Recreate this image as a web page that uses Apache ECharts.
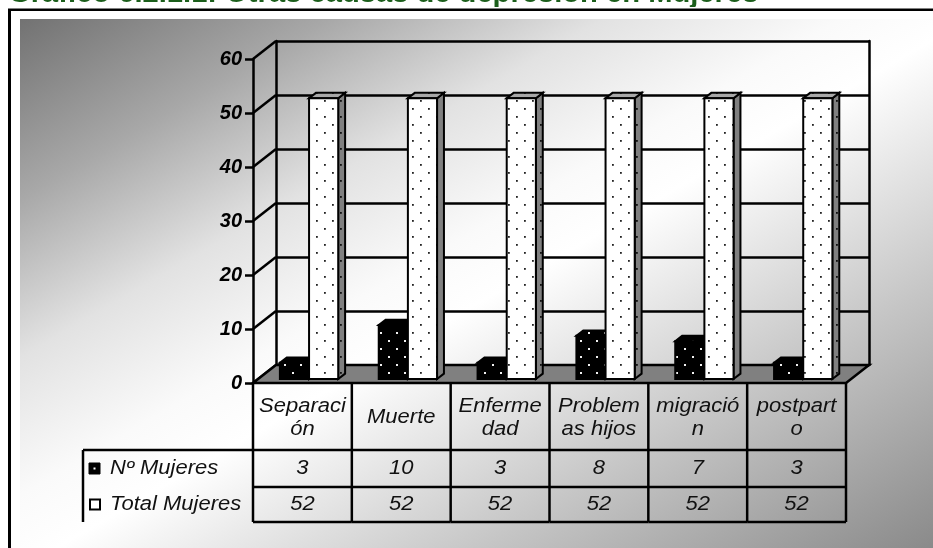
<!DOCTYPE html>
<html>
<head>
<meta charset="utf-8">
<title>Otras causas de depresión en Mujeres</title>
<script src="https://cdn.jsdelivr.net/npm/echarts@6/dist/echarts.min.js"></script>
<style>
  html, body { margin: 0; padding: 0; background: #fff; }
  #chart { width: 933px; height: 548px; }
</style>
</head>
<body>
<div id="chart"></div>
<script>
// ---- data ----
const titleText = 'Gráfico 6.2.1.1: Otras causas de depresión en Mujeres';
const categories = ['Separaci\nón', 'Muerte', 'Enferme\ndad', 'Problem\nas hijos', 'migració\nn', 'postpart\no'];
const seriesNames = ['Nº Mujeres', 'Total Mujeres'];
const nMujeres = [3, 10, 3, 8, 7, 3];
const totalMujeres = [52, 52, 52, 52, 52, 52];
const yTicks = [0, 10, 20, 30, 40, 50, 60];

// ---- 3D look: depth of the side wall / floor and bar placement inside it ----
const DEPTH_X = 23, DEPTH_Y = -18;
const BAR_NEAR = 0.22, BAR_FAR = 0.52;
const BAR_W = 0.295;          // fraction of category band
const BAR_START = -0.279;     // first bar's left edge, relative to band centre
const FONT = '"Liberation Sans", Arial, sans-serif';
const ROW_H = [67, 37, 35];   // table rows: header, Nº Mujeres, Total Mujeres
const LEGEND_COL_W = 170;

function dotPattern(bg, dot, size) {
  const c = document.createElement('canvas');
  c.width = 16; c.height = 16;
  const g = c.getContext('2d');
  g.fillStyle = bg; g.fillRect(0, 0, 16, 16);
  g.fillStyle = dot;
  g.fillRect(4, 4, size, size);
  g.fillRect(12, 12, size, size);
  return { image: c, repeat: 'repeat' };
}

const whiteFace = dotPattern('#ffffff', '#222222', 1.8);
const whiteSide = dotPattern('#808080', '#111111', 1.8);
const whiteTop = dotPattern('#a8a8a8', '#111111', 1.8);
const blackFace = dotPattern('#000000', '#f0f0f0', 2);

function barRenderer(slot, face, side, top) {
  return function (params, api) {
    const idx = api.value(0);
    const v = api.value(1);
    const base = api.coord([idx, 0]);
    const peak = api.coord([idx, v]);
    const band = api.size([1, 0])[0];
    const w = band * BAR_W;
    const nx = DEPTH_X * BAR_NEAR, ny = DEPTH_Y * BAR_NEAR;
    const dx = DEPTH_X * (BAR_FAR - BAR_NEAR), dy = DEPTH_Y * (BAR_FAR - BAR_NEAR);
    const x0 = base[0] + band * BAR_START + slot * w + nx;
    const x1 = x0 + w;
    const yb = base[1] + ny, yt = peak[1] + ny;
    const line = { stroke: '#000', lineWidth: 2, lineJoin: 'miter' };
    return {
      type: 'group',
      children: [
        { type: 'polygon', shape: { points: [[x1, yb], [x1 + dx, yb + dy], [x1 + dx, yt + dy], [x1, yt]] },
          style: Object.assign({ fill: side }, line) },
        { type: 'polygon', shape: { points: [[x0, yt], [x1, yt], [x1 + dx, yt + dy], [x0 + dx, yt + dy]] },
          style: Object.assign({ fill: top }, line) },
        { type: 'rect', shape: { x: x0, y: yt, width: w, height: yb - yt },
          style: Object.assign({ fill: face }, line) }
      ]
    };
  };
}

function cellText(str, cx, cy, lineHeight) {
  return {
    type: 'text', x: cx, y: cy, scaleX: 1.1,
    style: {
      text: str, x: 0, y: 0,
      align: 'center', verticalAlign: 'middle',
      textAlign: 'center', textVerticalAlign: 'middle',
      font: 'italic 20px ' + FONT, fill: '#111', lineHeight: lineHeight || 23
    }
  };
}

function tableRenderer(params, api) {
  const i = api.value(0);
  const c = api.coord([i, 0]);
  const band = api.size([1, 0])[0];
  const x0 = c[0] - band / 2, x1 = c[0] + band / 2;
  const y0 = c[1], y1 = y0 + ROW_H[0], y2 = y1 + ROW_H[1], y3 = y2 + ROW_H[2];
  const line = { stroke: '#000', lineWidth: 2.5, fill: null };
  const kids = [
    { type: 'line', shape: { x1: x1, y1: y0, x2: x1, y2: y3 }, style: line },
    { type: 'line', shape: { x1: x0, y1: y1, x2: x1, y2: y1 }, style: line },
    { type: 'line', shape: { x1: x0, y1: y2, x2: x1, y2: y2 }, style: line },
    { type: 'line', shape: { x1: x0, y1: y3, x2: x1, y2: y3 }, style: line },
    cellText(categories[i], c[0], (y0 + y1) / 2 + 1, 23),
    cellText(String(api.value(1)), c[0], (y1 + y2) / 2),
    cellText(String(api.value(2)), c[0], (y2 + y3) / 2)
  ];
  if (i === 0) {
    const lx = x0 - LEGEND_COL_W;
    kids.push(
      { type: 'line', shape: { x1: x0, y1: y0, x2: x0, y2: y3 }, style: line },
      { type: 'line', shape: { x1: lx, y1: y1, x2: x0, y2: y1 }, style: line },
      { type: 'line', shape: { x1: lx, y1: y1, x2: lx, y2: y3 }, style: line },
      { type: 'rect', shape: { x: lx + 6, y: (y1 + y2) / 2 - 5.5, width: 11, height: 11 },
        style: { fill: '#000', stroke: '#000', lineWidth: 1 } },
      { type: 'rect', shape: { x: lx + 10.5, y: (y1 + y2) / 2 - 1, width: 2, height: 2 },
        style: { fill: '#fff' } },
      { type: 'rect', shape: { x: lx + 7, y: (y2 + y3) / 2 - 5, width: 10, height: 10 },
        style: { fill: '#fff', stroke: '#000', lineWidth: 2 } }
    );
    [seriesNames[0], seriesNames[1]].forEach(function (name, k) {
      const cy = k === 0 ? (y1 + y2) / 2 : (y2 + y3) / 2;
      kids.push({
        type: 'text', x: lx + 27, y: cy, scaleX: 1.1,
        style: {
          text: name, x: 0, y: 0,
          align: 'left', verticalAlign: 'middle',
          textAlign: 'left', textVerticalAlign: 'middle',
          font: 'italic 20px ' + FONT, fill: '#111'
        }
      });
    });
  }
  return { type: 'group', children: kids };
}

const chart = echarts.init(document.getElementById('chart'), null, { renderer: 'canvas' });

const option = {
  animation: false,
  graphic: [
    { type: 'rect', z: -20, silent: true,
      shape: { x: 9.5, y: 9.5, width: 1000, height: 1000 },
      style: { fill: '#fff', stroke: '#000', lineWidth: 3 } },
    { type: 'rect', z: -19, silent: true,
      shape: { x: 20, y: 19, width: 940, height: 560 },
      style: {
        fill: new echarts.graphic.LinearGradient(20, 19, 479, 811, [
          { offset: 0, color: '#727272' },
          { offset: 0.17, color: '#a8a8a8' },
          { offset: 0.32, color: '#e2e2e2' },
          { offset: 0.45, color: '#fafafa' },
          { offset: 0.52, color: '#ffffff' },
          { offset: 0.75, color: '#c6c6c6' },
          { offset: 1, color: '#8a8a8a' }
        ], true)
      } },
    { type: 'text', z: 50, silent: true, x: 8, y: -5, scaleX: 1.08,
      style: { text: titleText, x: 0, y: 0, font: 'bold 27px ' + FONT, fill: '#1b5e1b',
               align: 'left', verticalAlign: 'middle' } },
    { type: 'rect', z: 51, silent: true,
      shape: { x: 0, y: 7, width: 933, height: 1.5 }, style: { fill: '#fff' } }
  ],
  grid: [
    { left: 253, right: 87, top: 59, bottom: 165 },   // front plane
    { left: 276, right: 64, top: 41, bottom: 183 }    // back wall
  ],
  xAxis: [
    { type: 'category', gridIndex: 0, data: categories,
      axisLine: { show: false }, axisTick: { show: false }, axisLabel: { show: false }, splitLine: { show: false } },
    { type: 'category', gridIndex: 1, data: categories,
      axisLine: { show: false }, axisTick: { show: false }, axisLabel: { show: false }, splitLine: { show: false } }
  ],
  yAxis: [
    { type: 'value', gridIndex: 0, min: 0, max: 60, interval: 10,
      axisLine: { show: true, lineStyle: { color: '#000', width: 2.5 } },
      axisTick: { show: true, length: 8, lineStyle: { color: '#000', width: 2.5 } },
      axisLabel: { margin: 11, color: '#000', fontFamily: FONT, fontSize: 20,
                   fontWeight: 'bold', fontStyle: 'italic' },
      splitLine: { show: false } },
    { type: 'value', gridIndex: 1, min: 0, max: 60, interval: 10,
      axisLine: { show: true, lineStyle: { color: '#000', width: 2.5 } },
      axisTick: { show: false }, axisLabel: { show: false },
      splitLine: { show: true, lineStyle: { color: '#000', width: 2.5 } } },
    { type: 'value', gridIndex: 1, min: 0, max: 60, interval: 10, position: 'right',
      axisLine: { show: true, lineStyle: { color: '#000', width: 2.5 } },
      axisTick: { show: false }, axisLabel: { show: false }, splitLine: { show: false } }
  ],
  series: [
    { // side wall: lines joining each front tick to its back-wall grid line
      type: 'custom', xAxisIndex: 0, yAxisIndex: 0, silent: true, z: 1,
      data: yTicks.map(function (v) { return [0, v]; }),
      renderItem: function (params, api) {
        const x = params.coordSys.x;
        const y = api.coord([0, api.value(1)])[1];
        return { type: 'line', shape: { x1: x, y1: y, x2: x + DEPTH_X, y2: y + DEPTH_Y },
                 style: { stroke: '#000', lineWidth: 2.5 } };
      }
    },
    { // floor
      type: 'custom', xAxisIndex: 0, yAxisIndex: 0, silent: true, z: 2,
      data: [[0, 0]],
      renderItem: function (params, api) {
        const cs = params.coordSys;
        const y = api.coord([0, 0])[1];
        const xl = cs.x, xr = cs.x + cs.width;
        return { type: 'polygon',
                 shape: { points: [[xl, y], [xr, y], [xr + DEPTH_X, y + DEPTH_Y], [xl + DEPTH_X, y + DEPTH_Y]] },
                 style: { fill: '#808080', stroke: '#000', lineWidth: 2.5 } };
      }
    },
    {
      name: seriesNames[0], type: 'custom', xAxisIndex: 0, yAxisIndex: 0, z: 3,
      data: nMujeres.map(function (v, i) { return [i, v]; }),
      renderItem: barRenderer(0, blackFace, '#000', blackFace)
    },
    {
      name: seriesNames[1], type: 'custom', xAxisIndex: 0, yAxisIndex: 0, z: 4,
      data: totalMujeres.map(function (v, i) { return [i, v]; }),
      renderItem: barRenderer(1, whiteFace, whiteSide, whiteTop)
    },
    { // data table under the plot
      type: 'custom', xAxisIndex: 0, yAxisIndex: 0, silent: true, z: 5,
      data: categories.map(function (c, i) { return [i, nMujeres[i], totalMujeres[i]]; }),
      renderItem: tableRenderer
    }
  ]
};

chart.setOption(option);
</script>
</body>
</html>
